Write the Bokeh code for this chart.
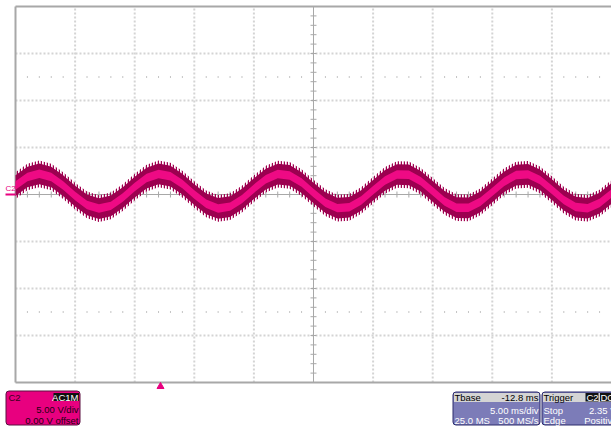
from bokeh.plotting import figure
from bokeh.models import Range1d, BoxAnnotation
from bokeh.core.properties import value
from bokeh.embed import file_html
from bokeh.resources import INLINE

# ---- data ----
time_ms = list(range(0, 51))
volts = [0.95, 1.86, 2.20, 1.86, 0.95, -0.17, -1.11, -1.50, -1.21, -0.33,
         0.79, 1.75, 2.19, 1.95, 1.11, -0.01, -0.99, -1.48, -1.29, -0.49,
         0.62, 1.63, 2.17, 2.03, 1.27, 0.16, -0.87, -1.45, -1.36, -0.64,
         0.45, 1.50, 2.13, 2.09, 1.41, 0.34, -0.74, -1.40, -1.42, -0.78,
         0.28, 1.36, 2.07, 2.14, 1.55, 0.51, -0.59, -1.34, -1.46, -0.91,
         0.11]
ms_per_div = 5.0
v_per_div = 5.0
h_divs = 10
v_divs = 8

c2_lines = ["C2", "AC1M", "5.00 V/div", "0.00 V offset"]
tbase_lines = ["Tbase", "-12.8 ms", "5.00 ms/div", "25.0 MS", "500 MS/s"]
trig_lines = ["Trigger", "C2", "DC", "Stop", "2.35 V", "Edge", "Positive"]

# ---- pixel helpers (page coords) ----
PX_PER_MS = 596.0 / 50.0
PX_PER_V = 376.0 / 40.0
def X(px):
    return (px - 15.0) / PX_PER_MS
def Y(py):
    return (194.0 - py) / PX_PER_V

p = figure(width=611, height=429, x_range=Range1d(X(0), X(611)),
           y_range=Range1d(Y(429), Y(0)), output_backend="svg",
           toolbar_location=None, min_border=0, outline_line_color=None,
           x_axis_type=None, y_axis_type=None, background_fill_color="white",
           border_fill_color="white")
p.grid.visible = False

tmax = ms_per_div * h_divs
vmax = v_per_div * v_divs / 2

# dotted grid
gx = [ms_per_div * i for i in range(1, h_divs) if i != h_divs // 2]
p.segment(x0=gx, y0=[-vmax] * len(gx), x1=gx, y1=[vmax] * len(gx),
          line_color="#d4d4d4", line_width=2, line_dash="2 2")
gy = [v_per_div * j for j in range(-v_divs // 2 + 1, v_divs // 2) if j != 0]
p.segment(x0=[0] * len(gy), y0=gy, x1=[tmax] * len(gy), y1=gy,
          line_color="#d4d4d4", line_width=2, line_dash="2 2")

# dot rows at +-2.5 div
dx = [i * ms_per_div / 5 for i in range(1, h_divs * 5) if i % 5 != 0]
for vv in (2.5 * v_per_div, -2.5 * v_per_div):
    p.segment(x0=dx, y0=[vv - 1 / PX_PER_V] * len(dx), x1=dx,
              y1=[vv + 1 / PX_PER_V] * len(dx), line_color="#c4c4c4", line_width=1)

# center cross with ticks
p.segment(x0=[tmax / 2, 0], y0=[-vmax, 0], x1=[tmax / 2, tmax], y1=[vmax, 0],
          line_color="#a8a8a8", line_width=1)
tx = [i * ms_per_div / 5 for i in range(1, h_divs * 5)]
p.segment(x0=tx, y0=[-3 / PX_PER_V] * len(tx), x1=tx, y1=[3 / PX_PER_V] * len(tx),
          line_color="#a8a8a8", line_width=1)
ty = [j * v_per_div / 5 for j in range(-v_divs * 5 // 2 + 1, v_divs * 5 // 2)]
p.segment(x0=[tmax / 2 - 3 / PX_PER_MS] * len(ty), y0=ty,
          x1=[tmax / 2 + 3 / PX_PER_MS] * len(ty), y1=ty,
          line_color="#a8a8a8", line_width=1)

# frame border
p.segment(x0=[0, 0, 0], y0=[-vmax, vmax, -vmax], x1=[0, tmax + 2, tmax + 2],
          y1=[vmax, vmax, -vmax], line_color="#a8a8a8", line_width=2)

# waveform band: noisy fringe, dark envelope, bright core
p.varea(x=time_ms, y1=[v - 1.42 for v in volts], y2=[v + 1.42 for v in volts],
        fill_alpha=0, hatch_pattern="vertical_line", hatch_color="#a0004e",
        hatch_scale=3, hatch_weight=1.5)
p.varea(x=time_ms, y1=[v - 1.1 for v in volts], y2=[v + 1.1 for v in volts],
        fill_color="#9c0050")
p.varea(x=time_ms, y1=[v - 0.45 for v in volts], y2=[v + 0.45 for v in volts],
        fill_color="#ee0a84")

PINK = "#e8007f"
FONT = value("Liberation Sans")
# channel marker
p.segment(x0=[X(5)], y0=[0], x1=[0], y1=[0], line_color=PINK, line_width=2)
p.text(x=[X(5)], y=[Y(188)], text=["C2"], text_font=FONT,
       text_font_size="8px", text_color=PINK, text_align="left",
       text_baseline="middle")
# trigger marker
p.scatter(x=[X(160)], y=[Y(386)], marker="triangle", size=7,
          fill_color=PINK, line_color=PINK)

def txt(px, py, s, color="black", align="left"):
    p.text(x=[X(px)], y=[Y(py)], text=[s], text_font=FONT,
           text_font_size="9.5px", text_color=color, text_align=align,
           text_baseline="middle")

def box(l, r, t, b, fill, line=None, radius=0, level="underlay"):
    bx = BoxAnnotation(left=X(l), right=X(r), top=Y(t), bottom=Y(b),
                       fill_color=fill, fill_alpha=1.0,
                       line_color=line, line_alpha=1.0 if line else 0.0,
                       line_width=1, border_radius=radius, level=level)
    p.add_layout(bx)

# C2 panel
box(5.5, 79.5, 390.5, 424.5, PINK, "#5a1040", 3)
box(53, 78.5, 392.5, 400.5, "#111111")
txt(8, 396.5, c2_lines[0], "#3a0020")
txt(78, 396.5, c2_lines[1], "white", "right")
txt(78, 409, c2_lines[2], "#1a0010", "right")
txt(78, 420, c2_lines[3], "#1a0010", "right")

# Tbase panel
box(452.5, 539.5, 391.5, 424.5, "#7c7cb8", "#2c2c6c", 3)
box(453.5, 538.5, 392.5, 401.5, "#d4d4d4")
txt(454, 396.5, tbase_lines[0])
txt(538, 396.5, tbase_lines[1], "black", "right")
txt(538, 409.5, tbase_lines[2], "white", "right")
txt(454, 420, tbase_lines[3], "white")
txt(538, 420, tbase_lines[4], "white", "right")

# Trigger panel
box(541.5, 640, 391.5, 424.5, "#7c7cb8", "#2c2c6c", 3)
box(542.5, 639, 392.5, 401.5, "#d4d4d4")
box(585, 598, 392.5, 401, "#111111")
box(599.5, 640, 392.5, 401, "#111111")
txt(543, 396.5, trig_lines[0])
txt(586, 396.5, trig_lines[1], "white")
txt(600, 396.5, trig_lines[2], "white")
txt(543, 409.5, trig_lines[3], "white")
txt(616, 409.5, trig_lines[4], "white", "right")
txt(543, 420, trig_lines[5], "white")
txt(617, 420, trig_lines[6], "white", "right")

open("out.html", "w").write(file_html(p, INLINE))
